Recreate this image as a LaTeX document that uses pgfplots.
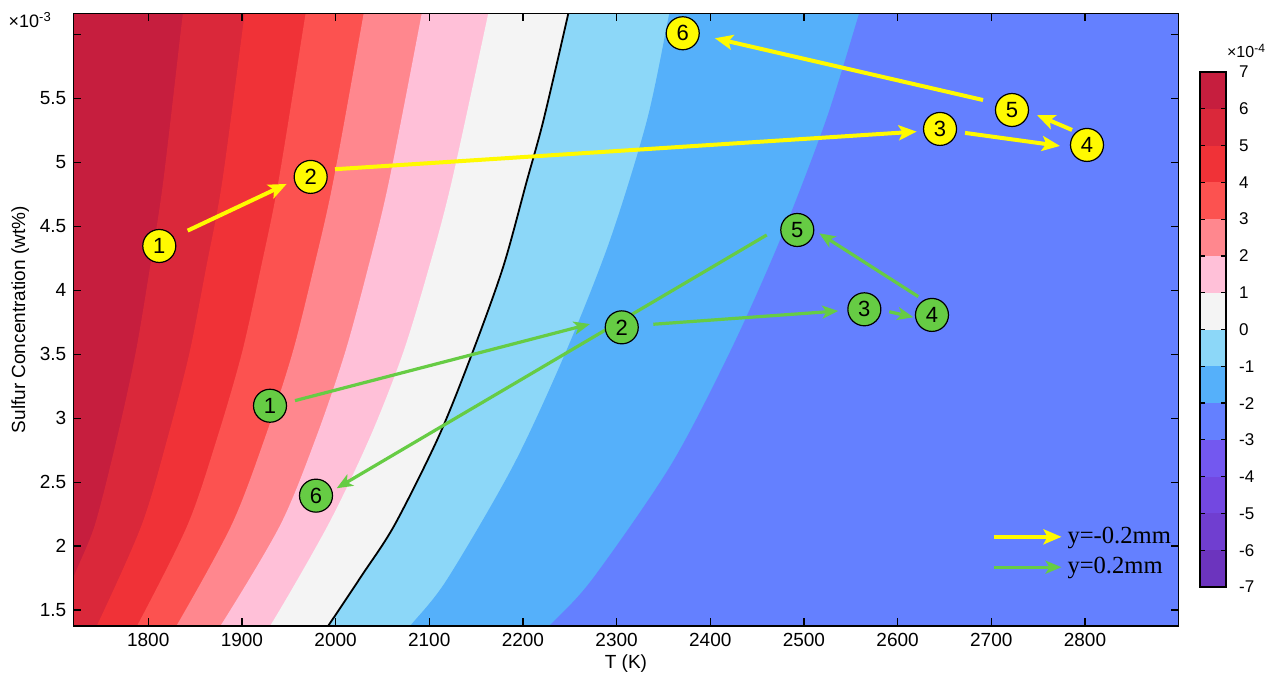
\documentclass[border=0pt]{standalone}
\usepackage{fontspec}
\setmainfont{Liberation Sans}
\newfontfamily\timesfont{Liberation Serif}
\usepackage{pgfplots}
\pgfplotsset{compat=1.18}
\usetikzlibrary{arrows.meta}
\definecolor{c7}{RGB}{198,30,62}
\definecolor{c6}{RGB}{218,40,58}
\definecolor{c5}{RGB}{240,50,55}
\definecolor{c4}{RGB}{252,82,80}
\definecolor{c3}{RGB}{255,135,142}
\definecolor{c2}{RGB}{255,192,216}
\definecolor{c1}{RGB}{244,244,244}
\definecolor{m1}{RGB}{140,215,248}
\definecolor{m2}{RGB}{85,176,250}
\definecolor{m3}{RGB}{100,128,255}
\definecolor{m4}{RGB}{115,88,240}
\definecolor{m5}{RGB}{115,72,225}
\definecolor{m6}{RGB}{112,62,208}
\definecolor{m7}{RGB}{108,52,190}
\definecolor{ylw}{RGB}{255,250,0}
\definecolor{grn}{RGB}{102,204,68}
\begin{document}
\begin{tikzpicture}
\useasboundingbox (-36.65pt,-25pt) rectangle (604.85pt,313pt);
\begin{axis}[
  name=main,
  at={(0pt,0pt)}, anchor=south west,
  scale only axis, width=552.65pt, height=306.35pt,
  xmin=1720, xmax=2900, ymin=1.375, ymax=6.165,
  xtick={1800,1900,...,2800},
  ytick={1.5,2,2.5,3,3.5,4,4.5,5,5.5,6},
  yticklabels={1.5,2,2.5,3,3.5,4,4.5,5,5.5,{}},
  xtick pos=both, ytick pos=both,
  xticklabel pos=lower, yticklabel pos=left,
  tick align=inside, major tick length=4pt,
  tick style={black, line width=0.6pt},
  axis line style={black, line width=0.8pt},
  axis on top,
  /pgf/number format/assume math mode=true,
  /pgf/number format/1000 sep={},
  ticklabel style={font=\fontsize{9.5}{11}\selectfont},
  xlabel={T (K)}, ylabel={Sulfur Concentration (wt\%)},
  label style={font=\fontsize{9.5}{11}\selectfont},
  xlabel style={yshift=3pt},
  ylabel style={yshift=-1.5pt},
  legend style={draw=none, fill=none, at={(rel axis cs:0.997,0.073)}, anchor=south east,
    font=\timesfont\fontsize{12.3}{14}\selectfont, row sep=1.5pt, inner sep=0pt,
    legend cell align=left},
  yarr/.style={draw=ylw, line width=2pt, -{Stealth[length=9pt,width=7.5pt,inset=2pt]}, forget plot},
  garr/.style={draw=grn, line width=1.6pt, -{Stealth[length=8pt,width=6.5pt,inset=2pt]}, forget plot},
  reg/.style={draw=none, smooth, forget plot},
]
\addlegendimage{legend image code/.code={\draw[ylw, line width=2pt, -{Stealth[length=9pt,width=7.5pt,inset=2pt]}] (0pt,0pt) -- (34pt,0pt);}}
\addlegendentry{y=-0.2mm}
\addlegendimage{legend image code/.code={\draw[grn, line width=1.6pt, -{Stealth[length=8pt,width=6.5pt,inset=2pt]}] (0pt,0pt) -- (34pt,0pt);}}
\addlegendentry{y=0.2mm}
% contour bands: each polygon covers everything right of one level line
\addplot[draw=none, forget plot, fill=c7] coordinates {(1700,1.2) (1700,6.4) (2950,6.4) (2950,1.2)};
\addplot[reg, fill=c6] coordinates {(1655,0.6) (1692,1.2) (1706,1.45) (1721,1.77) (1743,2.165) (1767,2.855) (1786.5,3.51) (1802,4.184) (1816,4.85) (1837,6.165) (1842,6.4) (1855,7.0) (3100,7.5) (3100,0)};
\addplot[reg, fill=c5] coordinates {(1660,0.6) (1731,1.2) (1745,1.375) (1793,2.165) (1821,2.855) (1844,3.51) (1862,4.184) (1879,4.85) (1903,6.165) (1908,6.4) (1921,7.0) (3100,7.5) (3100,0)};
\addplot[reg, fill=c4] coordinates {(1705,0.6) (1772,1.2) (1788,1.375) (1842,2.165) (1874,2.855) (1900,3.51) (1920.5,4.184) (1939,4.85) (1968,6.165) (1973,6.4) (1986,7.0) (3100,7.5) (3100,0)};
\addplot[reg, fill=c3] coordinates {(1720,0.6) (1812,1.2) (1830,1.375) (1889,2.165) (1925,2.855) (1954,3.51) (1977,4.184) (1997.5,4.85) (2030,6.165) (2035,6.4) (2048,7.0) (3100,7.5) (3100,0)};
\addplot[reg, fill=c2] coordinates {(1760,0.6) (1857,1.2) (1877,1.375) (1941,2.165) (1979.5,2.855) (2010,3.51) (2035,4.184) (2057,4.85) (2092,6.165) (2097,6.4) (2110,7.0) (3100,7.5) (3100,0)};
\addplot[reg, fill=c1] coordinates {(1815,0.6) (1909,1.2) (1930,1.375) (1992,2.165) (2037,2.855) (2072,3.51) (2100,4.184) (2124,4.85) (2163,6.165) (2169,6.4) (2184,7.0) (3100,7.5) (3100,0)};
\addplot[reg, fill=m1] coordinates {(1900,0.6) (1975,1.2) (1992,1.375) (2028,1.77) (2063,2.165) (2110,2.855) (2146,3.51) (2179,4.184) (2204,4.85) (2222,5.331) (2248.5,6.165) (2255,6.4) (2270,7.0) (3100,7.5) (3100,0)};
\addplot[reg, fill=m2] coordinates {(2000,0.6) (2060,1.2) (2079.5,1.375) (2118.6,1.735) (2190,2.634) (2246.7,3.533) (2293,4.393) (2332.5,5.331) (2356.3,6.165) (2363,6.4) (2380,7.0) (3100,7.5) (3100,0)};
\addplot[reg, fill=m3] coordinates {(2140,0.6) (2206,1.2) (2228,1.375) (2273.4,1.735) (2358,2.634) (2422,3.533) (2474.5,4.393) (2523.6,5.331) (2559,6.165) (2569,6.4) (2595,7.0) (3100,7.5) (3100,0)};
% zero contour line
\addplot[black, line width=0.9pt, smooth, forget plot] coordinates {(1900,0.6) (1975,1.2) (1992,1.375) (2028,1.77) (2063,2.165) (2110,2.855) (2146,3.51) (2179,4.184) (2204,4.85) (2222,5.331) (2248.5,6.165) (2255,6.4) (2270,7.0)};
% yellow arrows (y=-0.2mm)
\addplot[yarr] coordinates {(1842.1,4.466) (1947.8,4.831)};
\addplot[yarr] coordinates {(1999.4,4.946) (2620.4,5.240)};
\addplot[yarr] coordinates {(2672,5.230) (2773.4,5.128)};
\addplot[yarr] coordinates {(2786.2,5.253) (2748.8,5.370)};
\addplot[yarr] coordinates {(2691.2,5.487) (2404.9,5.970)};
% green arrows (y=0.2mm)
\addplot[garr] coordinates {(1956.7,3.137) (2271.6,3.736)};
\addplot[garr] coordinates {(2339.2,3.734) (2536.7,3.838)};
\addplot[garr] coordinates {(2591.1,3.832) (2616.8,3.789)};
\addplot[garr] coordinates {(2622.1,3.950) (2516.4,4.445)};
\addplot[garr] coordinates {(2460.3,4.432) (2001.2,2.452)};
% numbered points
\addplot[only marks, forget plot, mark=*, mark size=8.25pt,
  mark options={fill=ylw, draw=black, line width=0.6pt},
  point meta=explicit symbolic, nodes near coords, nodes near coords align=center,
  every node near coord/.append style={anchor=center, inner sep=0pt, text=black, font=\fontsize{11}{11}\selectfont}]
  coordinates {(1811.8,4.346)[1] (1973.4,4.886)[2] (2645.3,5.261)[3] (2802.2,5.136)[4] (2722.1,5.409)[5] (2370.6,6.009)[6]};
\addplot[only marks, forget plot, mark=*, mark size=8.25pt,
  mark options={fill=grn, draw=black, line width=0.6pt},
  point meta=explicit symbolic, nodes near coords, nodes near coords align=center,
  every node near coord/.append style={anchor=center, inner sep=0pt, text=black, font=\fontsize{11}{11}\selectfont}]
  coordinates {(1930,3.097)[1] (2305.5,3.710)[2] (2564.5,3.851)[3] (2636.7,3.807)[4] (2492.9,4.471)[5] (1979.1,2.394)[6]};
\end{axis}
\node[anchor=west, inner sep=0pt, font=\fontsize{9}{10}\selectfont] at ([xshift=-32.5pt, yshift=-3.5pt]main.north west) {×10\raisebox{0.6ex}{\fontsize{6.5}{7}\selectfont -3}};
% colour bar
\begin{axis}[
  name=cbar,
  at={(563.35pt,19.5pt)}, anchor=south west,
  scale only axis, width=13pt, height=257.5pt,
  xmin=0, xmax=1, ymin=-7, ymax=7,
  xtick=\empty, ytick={-7,-6,...,7},
  ytick pos=both, yticklabel pos=right,
  tick align=inside, major tick length=2.5pt,
  tick style={black, line width=0.6pt},
  axis line style={black, line width=0.7pt},
  axis on top,
  /pgf/number format/assume math mode=true,
  ticklabel style={font=\fontsize{8.5}{10}\selectfont},
  yticklabel style={xshift=3pt},
  cb/.style={draw=none, forget plot},
]
\addplot[cb, fill=m7] coordinates {(0,-7) (1,-7) (1,-6) (0,-6)};
\addplot[cb, fill=m6] coordinates {(0,-6) (1,-6) (1,-5) (0,-5)};
\addplot[cb, fill=m5] coordinates {(0,-5) (1,-5) (1,-4) (0,-4)};
\addplot[cb, fill=m4] coordinates {(0,-4) (1,-4) (1,-3) (0,-3)};
\addplot[cb, fill=m3] coordinates {(0,-3) (1,-3) (1,-2) (0,-2)};
\addplot[cb, fill=m2] coordinates {(0,-2) (1,-2) (1,-1) (0,-1)};
\addplot[cb, fill=m1] coordinates {(0,-1) (1,-1) (1,0) (0,0)};
\addplot[cb, fill=c1] coordinates {(0,0) (1,0) (1,1) (0,1)};
\addplot[cb, fill=c2] coordinates {(0,1) (1,1) (1,2) (0,2)};
\addplot[cb, fill=c3] coordinates {(0,2) (1,2) (1,3) (0,3)};
\addplot[cb, fill=c4] coordinates {(0,3) (1,3) (1,4) (0,4)};
\addplot[cb, fill=c5] coordinates {(0,4) (1,4) (1,5) (0,5)};
\addplot[cb, fill=c6] coordinates {(0,5) (1,5) (1,6) (0,6)};
\addplot[cb, fill=c7] coordinates {(0,6) (1,6) (1,7) (0,7)};
\end{axis}
\node[anchor=south, inner sep=0pt, font=\fontsize{8}{9}\selectfont] at ([xshift=10pt, yshift=7pt]cbar.north east) {×10\raisebox{0.6ex}{\fontsize{6}{7}\selectfont -4}};
\end{tikzpicture}
\end{document}
